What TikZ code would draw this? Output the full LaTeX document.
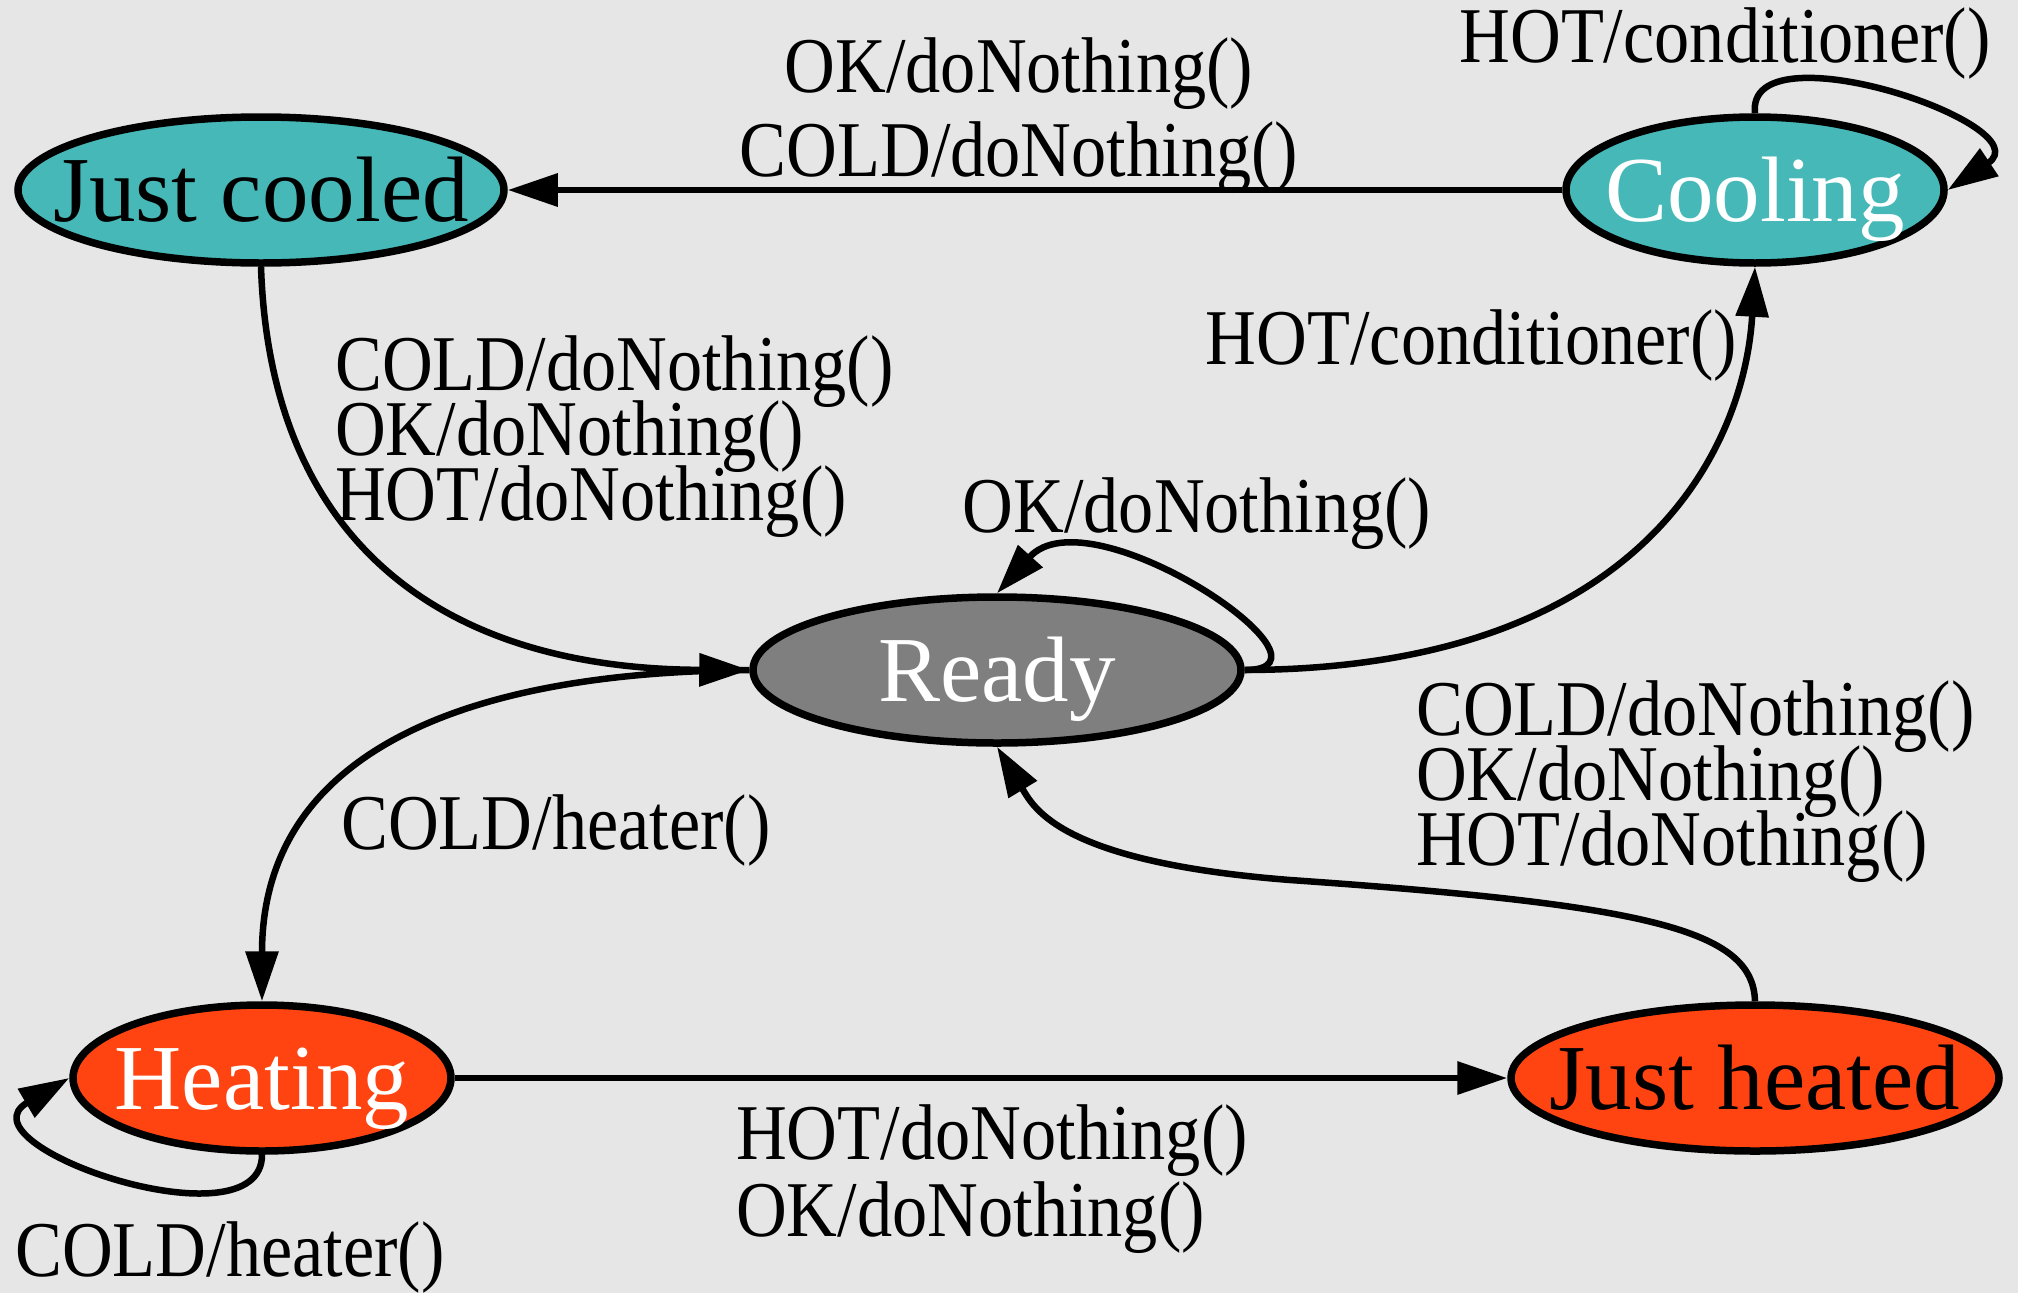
\documentclass[tikz,border=0pt]{standalone}
\usepackage{fontspec}
\setmainfont{Liberation Serif}
\newfontfamily\edgefont[FakeStretch=0.89]{Liberation Serif}
\usetikzlibrary{shapes.geometric,arrows.meta}

\definecolor{bgcol}{HTML}{E6E6E6}
\definecolor{coolcol}{HTML}{46B8B8}
\definecolor{readycol}{HTML}{7F7F7F}
\definecolor{heatcol}{HTML}{FF4411}

% label font with a fixed line pitch
\newcommand\edgelblfont{\edgefont\fontsize{79}{65}\selectfont\lineskiplimit-200pt\relax}

\tikzset{
  state/.style={ellipse, draw=black, line width=7.5pt, minimum height=146pt,
    inner sep=0pt, text height=62pt, text depth=0pt,
    font=\fontsize{93}{100}\selectfont},
  edge/.style={line width=6.5pt, -{Triangle[length=50pt,width=32pt]}},
  lbl/.style={font=\edgelblfont, inner sep=0pt}
}

\begin{document}
\begin{tikzpicture}[x=1pt,y=-1pt]
  \fill[bgcol] (0,0) rectangle (2018,1293);
  \useasboundingbox (0,0) rectangle (2018,1293);

  % states
  \node[state, fill=coolcol, minimum width=486pt] (jc) at (261,190) {\makebox[0pt][c]{Just cooled}};
  \node[state, fill=coolcol, minimum width=378pt, text=white] (co) at (1755,190) {\makebox[0pt][c]{Cooling}};
  \node[state, fill=readycol, minimum width=488pt, text=white] (re) at (997,670) {\makebox[0pt][c]{Ready}};
  \node[state, fill=heatcol, minimum width=378pt, text=white] (he) at (262,1078) {\makebox[0pt][c]{Heating}};
  \node[state, fill=heatcol, minimum width=488pt] (jh) at (1755,1078) {\makebox[0pt][c]{Just heated}};

  % transitions
  \draw[edge] (co.west) -- (jc.east);
  \draw[edge] (co.north) .. controls (1745,25) and (2045,125) .. (co.east);
  \draw[edge] (jc.south) .. controls (270,540) and (440,669) .. (re.west);
  \draw[edge] (re.east) .. controls (1355,670) and (1090,490) .. (re.north);
  \draw[edge] (re.east) .. controls (1650,669) and (1745,440) .. (co.south);
  \draw[edge] (re.west) .. controls (450,672) and (262,760) .. (he.north);
  \draw[edge] (he.south) .. controls (262,1250) and (-45,1145) .. (he.west);
  \draw[edge] (he.east) -- (jh.west);
  \draw[edge] (jh.north) .. controls (1753,930) and (1650,905) .. (1290,880)
                         .. controls (1060,862) and (1034,808) .. (re.south);

  % transition labels (multi-line labels are anchored at their last baseline)
  \node[lbl, anchor=base, align=center] (l1) at (1019,176) {OK/doNothing()\\[19pt]COLD/doNothing()};
  \node[lbl, anchor=base west, align=left] (l2) at (335,520) {COLD/doNothing()\\OK/doNothing()\\HOT/doNothing()};
  \node[lbl, anchor=base east] (l3) at (1737,364) {HOT/conditioner()};
  \node[lbl, anchor=base] (l4) at (1725,62) {HOT/conditioner()};
  \node[lbl, anchor=base] (l5) at (1197,532) {OK/doNothing()};
  \node[lbl, anchor=base west, align=left] (l6) at (1416,865) {COLD/doNothing()\\OK/doNothing()\\HOT/doNothing()};
  \node[lbl, anchor=base west] (l7) at (341,849) {COLD/heater()};
  \node[lbl, anchor=base west, align=left] (l8) at (736,1236) {HOT/doNothing()\\[12pt]OK/doNothing()};
  \node[lbl, anchor=base west] (l9) at (15,1276) {COLD/heater()};
\end{tikzpicture}
\end{document}
